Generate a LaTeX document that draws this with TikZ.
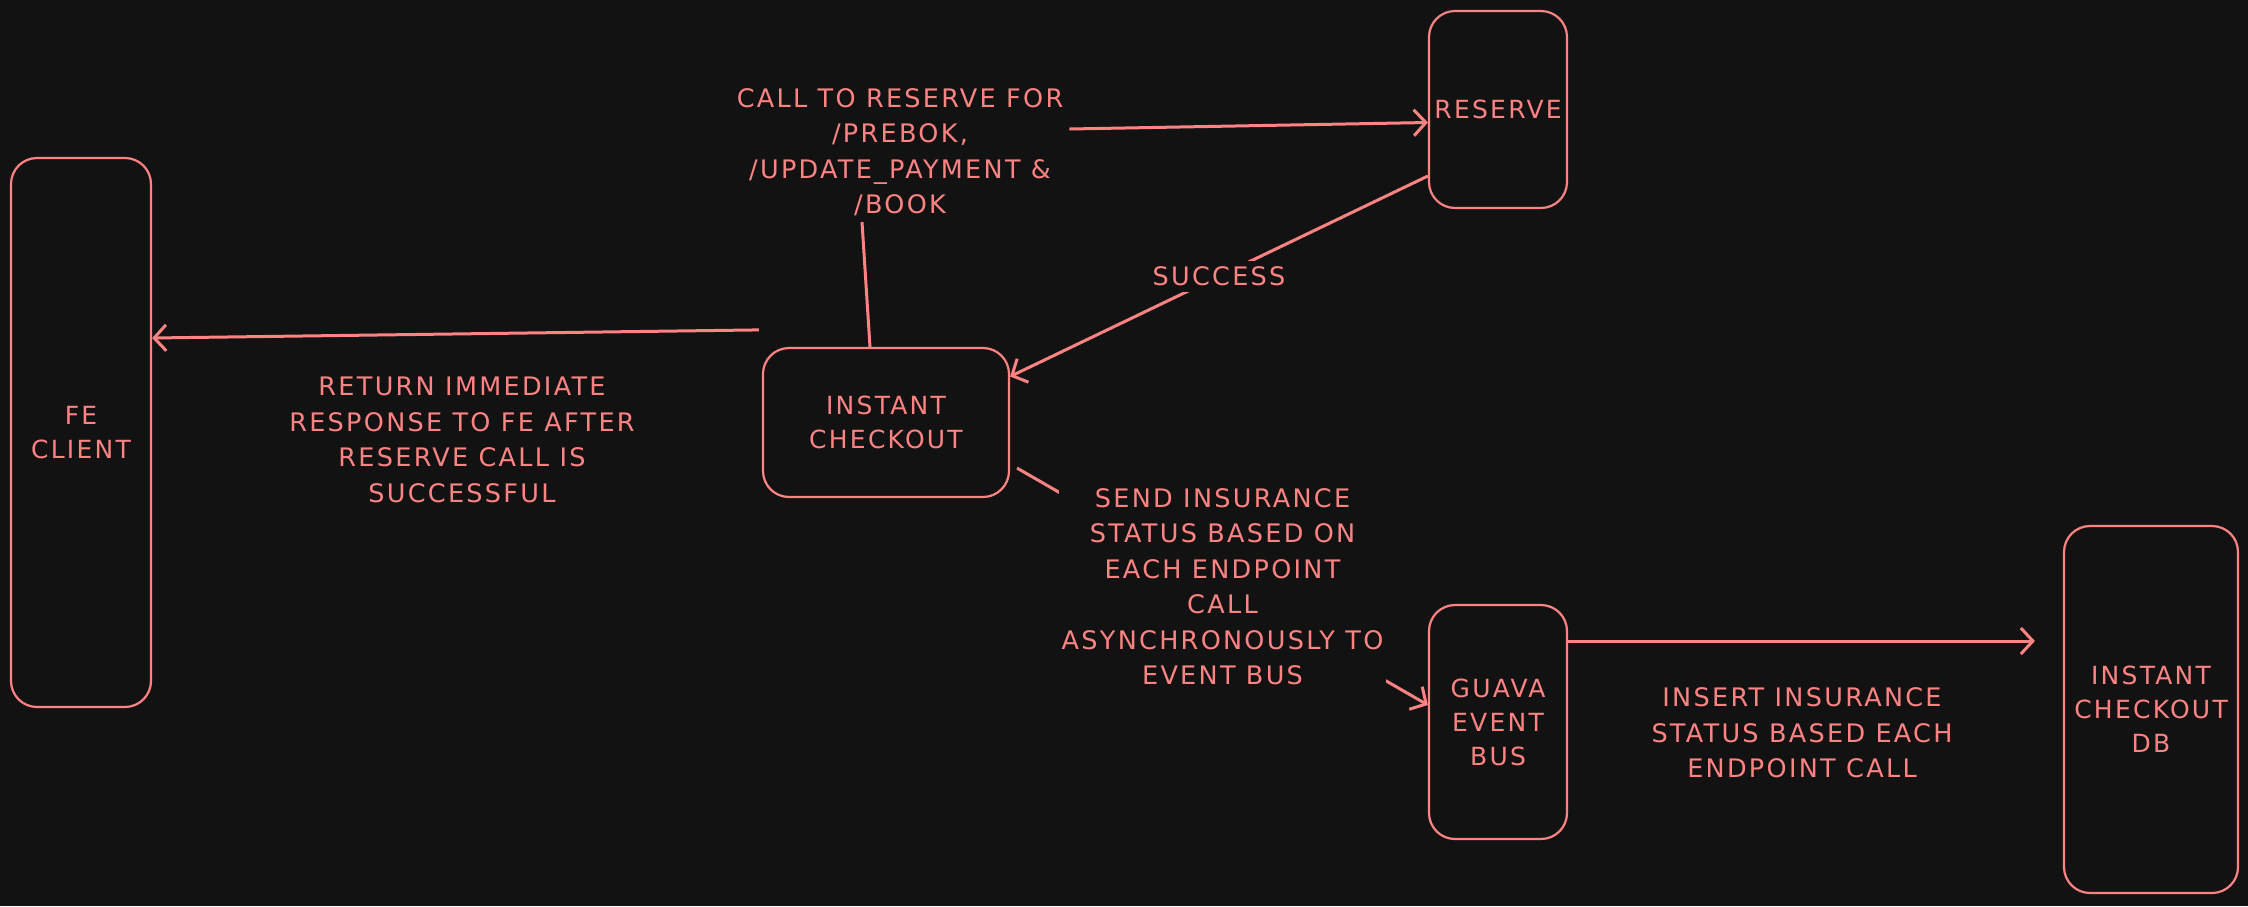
\documentclass[tikz,border=0pt]{standalone}
\usepackage{fontspec}
\setmainfont{DejaVu Sans}[LetterSpace=9]
\usetikzlibrary{arrows.meta}
\definecolor{bg}{HTML}{121212}
\definecolor{ink}{HTML}{FF8383}
\begin{document}
\begin{tikzpicture}[x=1pt,y=-1pt,
  box/.style={draw=ink,line width=2.2pt,rounded corners=26pt,inner sep=0pt,align=center,text=ink,font=\fontsize{25}{34}\selectfont},
  lbl/.style={text=ink,align=center,font=\fontsize{25.5}{35.5}\selectfont,inner sep=6pt},
  conn/.style={draw=ink,line width=3pt},
  arr/.style={conn,-{Straight Barb[length=12pt,width=26pt,line width=3pt]}}]
\fill[bg] (0,0) rectangle (2248,906);
\useasboundingbox (0,0) rectangle (2248,906);
\node[box,minimum width=140pt,minimum height=549pt] (fe) at (81,432.5) {FE\\CLIENT};
\node[box,minimum width=138pt,minimum height=197pt] (reserve) at (1498,109.5) {RESERVE};
\node[box,minimum width=246pt,minimum height=149pt] (ic) at (886,422.5) {INSTANT\\CHECKOUT};
\node[box,minimum width=138pt,minimum height=234pt] (guava) at (1498,722) {GUAVA\\EVENT\\BUS};
\node[box,minimum width=174pt,minimum height=367pt] (db) at (2151,709.5) {INSTANT\\CHECKOUT\\DB};

\node[lbl] (call) at (900,152) {CALL TO RESERVE FOR\\/PREBOK,\\/UPDATE\_PAYMENT \&\\/BOOK};
\node[lbl] (ret) at (462,440) {RETURN IMMEDIATE\\RESPONSE TO FE AFTER\\RESERVE CALL IS\\SUCCESSFUL};
\node[lbl] (ins) at (1802,733) {INSERT INSURANCE\\STATUS BASED EACH\\ENDPOINT CALL};

\draw[conn] ([xshift=-16pt]ic.north) -- ([xshift=-38pt]call.south);
\draw[arr] ([yshift=23pt]call.east) -- ([yshift=-13pt]reserve.west);
\draw[arr] ([yshift=-66.5pt]reserve.west) -- node[lbl,fill=bg,midway] (succ) {SUCCESS} ([yshift=46pt]ic.east);
\draw[arr] ([shift={(-3pt,17pt)}]ic.north west) -- ([yshift=94.5pt]fe.east);
\draw[arr] ([shift={(7pt,30pt)}]ic.south east) -- node[lbl,fill=bg,midway,inner sep=3pt] (send) {SEND INSURANCE\\STATUS BASED ON\\EACH ENDPOINT\\CALL\\ASYNCHRONOUSLY TO\\EVENT BUS} ([yshift=17pt]guava.west);
\draw[arr] ([yshift=81pt]guava.east) -- ([shift={(-28pt,68.5pt)}]db.west);
\end{tikzpicture}
\end{document}
